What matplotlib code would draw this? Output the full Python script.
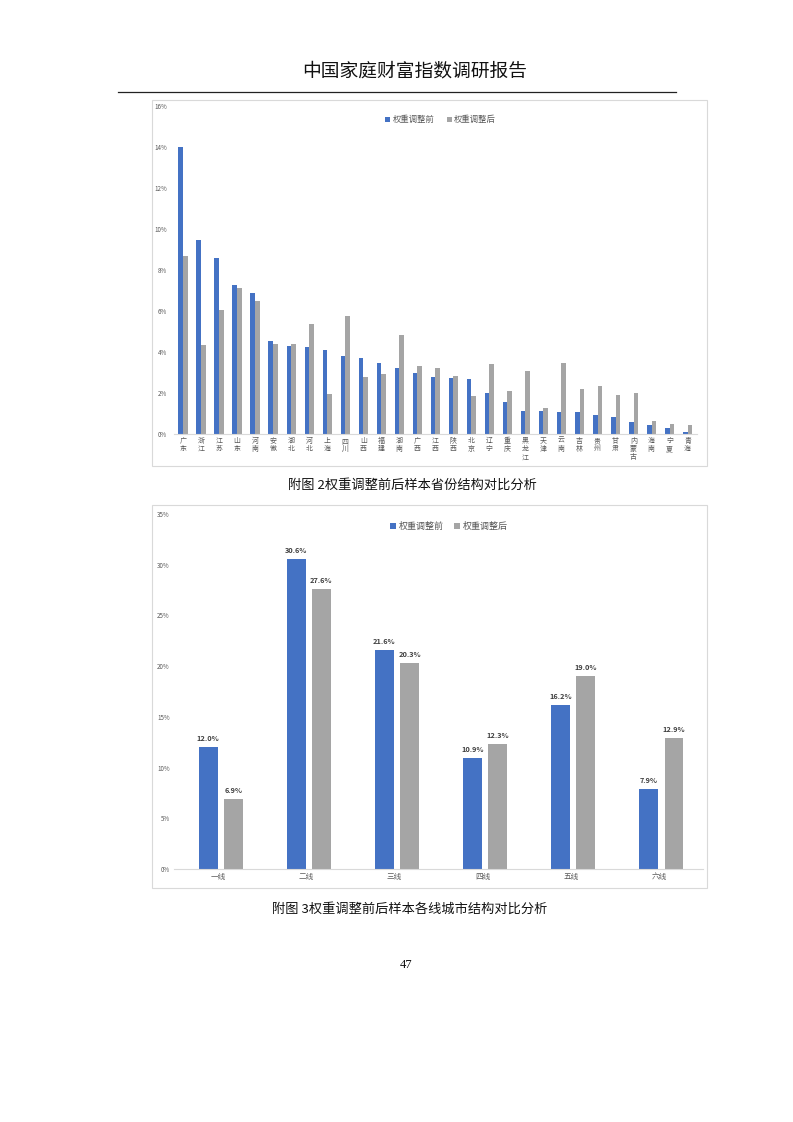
import matplotlib
matplotlib.use('Agg')
import matplotlib.pyplot as plt
from matplotlib.patches import Rectangle
import numpy as np

plt.rcParams['font.family'] = ['Noto Sans CJK SC', 'DejaVu Sans']

# chart 1: provinces
provinces = ['广东', '浙江', '江苏', '山东', '河南', '安徽', '湖北', '河北', '上海', '四川',
             '山西', '福建', '湖南', '广西', '江西', '陕西', '北京', '辽宁', '重庆', '黑龙江',
             '天津', '云南', '吉林', '贵州', '甘肃', '内蒙古', '海南', '宁夏', '青海']
prov_before = [14.0, 9.44, 8.6, 7.25, 6.88, 4.53, 4.31, 4.23, 4.08, 3.79,
               3.71, 3.46, 3.20, 2.97, 2.78, 2.73, 2.68, 1.99, 1.58, 1.14,
               1.14, 1.08, 1.05, 0.93, 0.83, 0.60, 0.46, 0.28, 0.08]
prov_after = [8.70, 4.35, 6.04, 7.11, 6.49, 4.40, 4.40, 5.39, 1.96, 5.78,
              2.78, 2.92, 4.85, 3.30, 3.22, 2.84, 1.83, 3.42, 2.08, 3.07,
              1.29, 3.46, 2.19, 2.35, 1.91, 1.99, 0.65, 0.49, 0.44]
prov_ticks = [0, 2, 4, 6, 8, 10, 12, 14, 16]

# chart 2: city tiers
tiers = ['一线', '二线', '三线', '四线', '五线', '六线']
tier_before = [12.0, 30.6, 21.6, 10.9, 16.2, 7.9]
tier_after = [6.9, 27.6, 20.3, 12.3, 19.0, 12.9]
tier_ticks = [0, 5, 10, 15, 20, 25, 30, 35]

series_names = ['权重调整前', '权重调整后']
BLUE = '#4472C4'
GRAY = '#A5A5A5'
TXT = '#595959'

fig = plt.figure(figsize=(7.93, 11.22), dpi=100)

# page header
fig.text(0.523, 0.937, '中国家庭财富指数调研报告', ha='center', va='center', fontsize=13.5, color='#111111')
fig.add_artist(plt.Line2D([0.149, 0.852], [0.918, 0.918], color='#222222', lw=0.9))

# boxes around the charts
for (bx, by, bw, bh) in [(0.1917, 0.5847, 0.700, 0.3262), (0.1917, 0.2086, 0.700, 0.3414)]:
    fig.add_artist(Rectangle((bx, by), bw, bh, transform=fig.transFigure, zorder=-5,
                             facecolor='white', edgecolor='#d9d9d9', lw=0.8))

# ---- chart 1
ax1 = fig.add_axes([0.2195, 0.6132, 0.659, 0.2923])
x = np.arange(len(provinces))
w = 0.26
ax1.bar(x - w / 2, prov_before, w, color=BLUE, label=series_names[0])
ax1.bar(x + w / 2, prov_after, w, color=GRAY, label=series_names[1])
ax1.set_xlim(-0.5, len(provinces) - 0.5)
ax1.set_ylim(0, 16)
ax1.set_yticks(prov_ticks)
ax1.set_yticklabels([f'{t}%' for t in prov_ticks], fontsize=4.5, color=TXT)
ax1.set_xticks(x)
ax1.set_xticklabels(['\n'.join(p) for p in provinces], fontsize=5, color=TXT, linespacing=1.05)
ax1.tick_params(axis='x', length=0, pad=2)
ax1.tick_params(axis='y', length=0, pad=5)
for s in ['top', 'right', 'left']:
    ax1.spines[s].set_visible(False)
ax1.spines['bottom'].set_color('#d9d9d9')
ax1.spines['bottom'].set_linewidth(0.8)
ax1.patch.set_alpha(0)
ax1.legend(loc='upper center', bbox_to_anchor=(0.51, 0.995), ncol=2, frameon=False,
           fontsize=6, handlelength=0.6, handleheight=0.6, handletextpad=0.3,
           columnspacing=1.5, labelcolor=TXT)

# ---- chart 2
ax2 = fig.add_axes([0.2194, 0.2255, 0.667, 0.3164])
x2 = np.arange(len(tiers))
w2 = 0.215
off = 0.142
b1 = ax2.bar(x2 - off + 0.03, tier_before, w2, color=BLUE, label=series_names[0])
b2 = ax2.bar(x2 + off + 0.03, tier_after, w2, color=GRAY, label=series_names[1])
for bars, vals in [(b1, tier_before), (b2, tier_after)]:
    for r, v in zip(bars, vals):
        ax2.text(r.get_x() + r.get_width() / 2, v + 0.5, f'{v:.1f}%', ha='center', va='bottom',
                 fontsize=5.3, color='#404040', fontweight='bold')
ax2.set_xlim(-0.5, len(tiers) - 0.5)
ax2.set_ylim(0, 35)
ax2.set_yticks(tier_ticks)
ax2.set_yticklabels([f'{t}%' for t in tier_ticks], fontsize=4.5, color=TXT)
ax2.set_xticks(x2)
ax2.set_xticklabels(tiers, fontsize=5.5, color=TXT)
ax2.tick_params(axis='x', length=0, pad=3)
ax2.tick_params(axis='y', length=0, pad=3)
for s in ['top', 'right', 'left']:
    ax2.spines[s].set_visible(False)
ax2.spines['bottom'].set_color('#d9d9d9')
ax2.spines['bottom'].set_linewidth(0.8)
ax2.patch.set_alpha(0)
ax2.legend(loc='upper center', bbox_to_anchor=(0.52, 1.0), ncol=2, frameon=False,
           fontsize=6.5, handlelength=0.6, handleheight=0.6, handletextpad=0.3,
           columnspacing=1.2, labelcolor=TXT)

# captions
fig.text(0.52, 0.5675, '附图 2权重调整前后样本省份结构对比分析', ha='center', va='center',
         fontsize=9.5, color='#111111')
fig.text(0.517, 0.19, '附图 3权重调整前后样本各线城市结构对比分析', ha='center', va='center',
         fontsize=9.5, color='#111111')
fig.text(0.512, 0.14, '47', ha='center', va='center', fontsize=9, color='#111111',
         family='Liberation Serif')

fig.savefig('out.png', dpi=100, facecolor='white')
